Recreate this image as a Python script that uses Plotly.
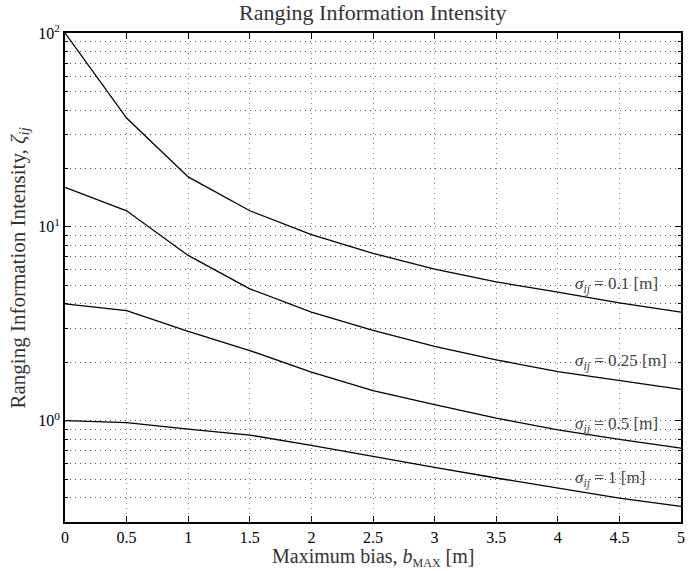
import math
import plotly.graph_objects as go

# Data
bias = [0, 0.5, 1, 1.5, 2, 2.5, 3, 3.5, 4, 4.5, 5]
zeta_s01 = [100, 36.4, 18.1, 12.1, 9.12, 7.3, 6.05, 5.2, 4.6, 4.05, 3.63]
zeta_s025 = [16, 12.1, 7.12, 4.79, 3.63, 2.92, 2.42, 2.06, 1.79, 1.61, 1.45]
zeta_s05 = [4.0, 3.70, 2.89, 2.30, 1.78, 1.43, 1.21, 1.03, 0.897, 0.80, 0.722]
zeta_s1 = [1.0, 0.977, 0.905, 0.843, 0.745, 0.652, 0.574, 0.506, 0.447, 0.398, 0.361]

series = [zeta_s01, zeta_s025, zeta_s05, zeta_s1]
label_texts = ["0.1", "0.25", "0.5", "1"]
label_x = [4.12, 4.12, 4.12, 4.12]
label_y = [5.0, 2.0, 0.95, 0.5]

x_ticks = [0, 0.5, 1, 1.5, 2, 2.5, 3, 3.5, 4, 4.5, 5]
x_ticktext = ["0", "0.5", "1", "1.5", "2", "2.5", "3", "3.5", "4", "4.5", "5"]
y_ticks = [1, 10, 100]
y_ticktext = ["10<sup>0</sup>", "10<sup>1</sup>", "10<sup>2</sup>"]
y_minor = [0.3, 0.4, 0.5, 0.6, 0.7, 0.8, 0.9,
           2, 3, 4, 5, 6, 7, 8, 9,
           20, 30, 40, 50, 60, 70, 80, 90]

FONT = "Liberation Serif"

fig = go.Figure()
for ys in series:
    fig.add_trace(go.Scatter(x=bias, y=ys, mode="lines",
                             line=dict(color="black", width=1.3),
                             showlegend=False, hoverinfo="skip"))

for t, lx, ly in zip(label_texts, label_x, label_y):
    fig.add_annotation(x=lx, y=math.log10(ly), yref="y", xref="x",
                       text=f"<i>σ<sub>ij</sub></i> = {t} [m]",
                       showarrow=False, xanchor="left", yanchor="middle",
                       font=dict(family=FONT, size=17, color="#444"))

grid_dash = "1px,4px"
fig.update_xaxes(range=[0, 5], tickmode="array", tickvals=x_ticks, ticktext=x_ticktext,
                 showgrid=True, gridcolor="#888", gridwidth=1, griddash=grid_dash,
                 ticks="inside", ticklen=6, tickwidth=1, tickcolor="black",
                 showline=True, linecolor="black", linewidth=2, mirror="ticks",
                 zeroline=False,
                 tickfont=dict(family=FONT, size=16, color="black"))
fig.update_yaxes(type="log", range=[math.log10(0.3), 2], tickmode="array",
                 tickvals=y_ticks, ticktext=y_ticktext,
                 showgrid=True, gridcolor="#555", gridwidth=1, griddash=grid_dash,
                 ticks="inside", ticklen=6, tickwidth=1, tickcolor="black",
                 showline=True, linecolor="black", linewidth=2, mirror="ticks",
                 zeroline=False,
                 minor=dict(tickmode="array", tickvals=y_minor, showgrid=True,
                            gridcolor="#555", gridwidth=1, griddash=grid_dash,
                            ticks="inside", ticklen=3, tickcolor="black"),
                 tickfont=dict(family=FONT, size=16, color="black"))

fig.add_annotation(xref="paper", yref="paper", x=0.5, y=1.0, yshift=21,
                   text="Ranging Information Intensity", showarrow=False,
                   xanchor="center", yanchor="middle",
                   font=dict(family=FONT, size=22, color="#333"))
fig.add_annotation(xref="paper", yref="paper", x=0.5, y=0, yshift=-35,
                   text="Maximum bias, <i>b</i><sub><span style='font-size:12px'>MAX</span></sub> [m]",
                   showarrow=False, xanchor="center", yanchor="middle",
                   font=dict(family=FONT, size=20, color="#333"))
fig.add_annotation(xref="paper", yref="paper", x=0, xshift=-47, y=0.5, yshift=9,
                   text="Ranging Information Intensity, <i>ζ<sub>ij</sub></i>", showarrow=False,
                   xanchor="center", yanchor="middle", textangle=-90,
                   font=dict(family=FONT, size=21, color="#333"))

fig.update_layout(width=690, height=571,
                  margin=dict(l=65, r=5, t=33, b=49),
                  paper_bgcolor="white", plot_bgcolor="white")

fig.write_html("out.html")
